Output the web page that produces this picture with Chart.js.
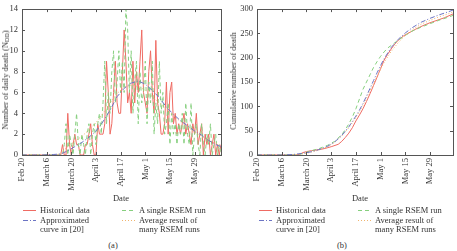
<!DOCTYPE html>
<html>
<head>
<meta charset="utf-8">
<script src="https://cdn.jsdelivr.net/npm/chart.js@4"></script>
<style>
  body { margin:0; width:457px; height:251px; position:relative; background:#fff; overflow:hidden;
         font-family:"Liberation Serif", serif; color:#333; font-size:8.5px; }
  .abs { position:absolute; white-space:nowrap; }
  .ytitle { transform: translate(-50%,-50%) rotate(-90deg); }
  .lg { position:absolute; line-height:9px; }
  .lg svg { position:absolute; top:-1px; }
  .lg span { position:absolute; white-space:nowrap; }
  sub { font-size:6px; vertical-align:-1px; }
</style>
</head>
<body>
<canvas id="c1" width="228" height="196" class="abs" style="left:0;top:0"></canvas>
<canvas id="c2" width="229" height="196" class="abs" style="left:228px;top:0"></canvas>

<div class="abs ytitle" style="left:5px;top:80px">Number of daily death (N<sub>DD</sub>)</div>
<div class="abs ytitle" style="left:233px;top:81px">Cumulative number of death</div>
<div class="abs" style="left:121px;top:198px;transform:translate(-50%,-50%)">Date</div>
<div class="abs" style="left:360px;top:198px;transform:translate(-50%,-50%)">Date</div>
<div class="abs" style="left:113px;top:245px;transform:translate(-50%,-50%)">(a)</div>
<div class="abs" style="left:342px;top:245px;transform:translate(-50%,-50%)">(b)</div>
<div id="legends"></div>

<script>
// --- Daten ---
const tickDays = [0, 14, 28, 42, 56, 70, 84, 98];
const tickNames = ['Feb 20', 'March 6', 'March 20', 'April 3', 'April 17', 'May 1', 'May 15', 'May 29'];

// tägliche Todesfälle, Index = Tag ab Feb 20
const histDaily = [
  0,0,0,0,0,0,0,0,0,0, 0,0,0,0,0,0,0,0,0,0, 0,0,0,1,0,0,4,1,0,1,
  2,1,1,0,0,0,1,1,2,3, 1,0,0,3,2,2,2,3,9,6, 2,3,6,9,5,4,4,8,12,9,
  5,6,4,9,5,8,6,9,12,6, 5,4,8,10,6,4,11,5,4,2, 2,3,7,2,6,7,3,4,2,3,
  2,3,4,2,3,2,1,3,2,4, 1,2,3,0,2,1,2,0,1,2, 0,1,0,1
];
const rsemDaily = [
  0,0,0,0,0,0,0,0,0,0, 0,0,0,0,0,0,0,0,0,0, 0,0,0,0,1,3,0,2,1,0,
  2,4,1,0,2,1,0,2,3,0, 2,3,1,3,4,2,5,9,3,6, 4,8,10,5,7,10,6,9,6,14,
  12,6,10,4,7,9,3,8,5,6, 9,3,7,5,9,2,5,3,9,4, 6,2,3,5,1,4,2,3,1,3,
  2,4,1,5,2,1,5,0,2,3, 1,0,3,1,0,2,1,3,0,1, 2,0,1,0
];
const approxDays  = [0, 12, 18, 22, 26, 30, 34, 38, 42, 46, 50, 54, 58, 62, 66, 70, 74, 78, 82, 86, 90, 94, 98, 102, 106, 110, 113];
const approxDaily = [0, 0, 0.05, 0.1, 0.4, 0.8, 1.2, 1.7, 2.3, 3.2, 4.3, 5.6, 6.4, 6.9, 7.1, 6.8, 6.2, 5.5, 4.6, 3.9, 3.3, 2.8, 2.3, 1.9, 1.4, 1.0, 0.8];
const avgDays  = [0, 20, 22, 26, 30, 34, 38, 42, 46, 50, 54, 58, 62, 66, 70, 74, 78, 82, 86, 90, 94, 98, 102, 106, 110, 113];
const avgDaily = [0, 0, 0.2, 0.8, 1.3, 1.8, 2.4, 3.1, 4.0, 5.0, 5.9, 6.5, 6.7, 6.6, 6.2, 5.6, 5.0, 4.4, 3.8, 3.2, 2.7, 2.2, 1.8, 1.4, 1.1, 0.9];

// kumulierte Werte
const histCumDays = [0, 22, 24, 26, 28, 31, 35, 38, 42, 46, 48, 50, 52, 54, 56, 58, 60, 62, 64, 66, 68, 70, 72, 74, 76, 78, 80, 83, 86, 90, 94, 98, 102, 106, 111];
const histCum     = [0, 0, 1, 5, 7, 9, 11, 13, 17, 22, 28, 36, 45, 56, 70, 82, 95, 110, 126, 143, 160, 178, 195, 207, 218, 228, 236, 245, 251, 259, 266, 272, 277, 282, 290];
const rsemCumDays = [0, 22, 26, 30, 35, 40, 44, 48, 50, 52, 54, 56, 58, 60, 62, 64, 66, 68, 70, 72, 74, 77, 80, 84, 88, 93, 98, 103, 108, 111];
const rsemCum     = [0, 0, 3, 8, 13, 20, 28, 42, 52, 64, 78, 95, 115, 135, 150, 165, 180, 192, 203, 212, 220, 228, 236, 246, 255, 263, 270, 277, 283, 287];
const approxCumDays = [0, 15, 20, 25, 30, 35, 40, 44, 48, 52, 56, 58, 60, 62, 64, 66, 68, 70, 72, 76, 80, 84, 88, 93, 98, 103, 108, 111];
const approxCum     = [0, 0, 1, 3, 6, 11, 18, 27, 40, 58, 80, 92, 106, 121, 137, 153, 169, 184, 198, 221, 238, 251, 262, 273, 281, 288, 294, 298];
const avgCumDays = [0, 20, 25, 30, 35, 40, 44, 48, 52, 56, 60, 64, 68, 72, 76, 80, 84, 88, 93, 98, 103, 108, 111];
const avgCum     = [0, 0, 2, 5, 10, 17, 26, 39, 56, 77, 102, 132, 162, 190, 213, 231, 246, 258, 269, 277, 284, 290, 294];

// --- Stil ---
const C_HIST = '#ef6b63';
const C_RSEM = '#86cf7e';
const C_APPROX = '#6c74c4';
const C_AVG = '#f0b46e';
const DASH_RSEM = [4, 3];
const DASH_APPROX = [5, 2, 1, 2];
const DASH_AVG = [1, 2];

Chart.defaults.font.family = '"Liberation Serif", serif';
Chart.defaults.font.size = 8.5;
Chart.defaults.color = '#333';

const pts = (xs, ys) => ys.map((y, i) => ({ x: xs ? xs[i] : i, y }));

// Rahmen + nach innen zeigende Ticks
const frameTicks = {
  id: 'frameTicks',
  afterDraw(chart) {
    const { ctx, chartArea: a, scales } = chart;
    ctx.save();
    ctx.strokeStyle = '#555';
    ctx.lineWidth = 1;
    ctx.strokeRect(Math.round(a.left) + 0.5, Math.round(a.top) + 0.5,
                   Math.round(a.right - a.left), Math.round(a.bottom - a.top));
    ctx.beginPath();
    tickDays.forEach(d => {
      const x = Math.round(scales.x.getPixelForValue(d)) + 0.5;
      ctx.moveTo(x, a.bottom); ctx.lineTo(x, a.bottom - 3);
      ctx.moveTo(x, a.top); ctx.lineTo(x, a.top + 3);
    });
    scales.y.ticks.forEach(t => {
      const y = Math.round(scales.y.getPixelForValue(t.value)) + 0.5;
      ctx.moveTo(a.left, y); ctx.lineTo(a.left + 3, y);
      ctx.moveTo(a.right, y); ctx.lineTo(a.right - 3, y);
    });
    ctx.stroke();
    ctx.restore();
  }
};

function ds(data, color, dash) {
  return { data, borderColor: color, borderDash: dash || [], borderWidth: 1,
           pointRadius: 0, tension: 0, fill: false };
}

function makeChart(id, datasets, xMax, yMax, yStep, yWidth, padRight) {
  return new Chart(document.getElementById(id), {
    type: 'line',
    data: { datasets },
    plugins: [frameTicks],
    options: {
      responsive: false,
      animation: false,
      layout: { padding: { left: 0, top: 5, right: padRight, bottom: 0 } },
      plugins: { legend: { display: false }, tooltip: { enabled: false } },
      scales: {
        x: {
          type: 'linear', min: 0, max: xMax,
          grid: { display: false, drawTicks: false }, border: { display: false },
          afterBuildTicks: s => { s.ticks = tickDays.map(v => ({ value: v })); },
          afterFit: s => { s.height = 41; },
          ticks: { minRotation: 90, maxRotation: 90, padding: 3,
                   callback: v => tickNames[tickDays.indexOf(v)] }
        },
        y: {
          min: 0, max: yMax,
          grid: { display: false, drawTicks: false }, border: { display: false },
          afterFit: s => { s.width = yWidth; },
          ticks: { stepSize: yStep, padding: 4 }
        }
      }
    }
  });
}

makeChart('c1', [
  ds(pts(approxDays, approxDaily), C_APPROX, DASH_APPROX),
  ds(pts(avgDays, avgDaily), C_AVG, DASH_AVG),
  ds(pts(null, rsemDaily), C_RSEM, DASH_RSEM),
  ds(pts(null, histDaily), C_HIST)
], 113, 14, 2, 22, 7);

makeChart('c2', [
  ds(pts(approxCumDays, approxCum), C_APPROX, DASH_APPROX),
  ds(pts(avgCumDays, avgCum), C_AVG, DASH_AVG),
  ds(pts(rsemCumDays, rsemCum), C_RSEM, DASH_RSEM),
  ds(pts(histCumDays, histCum), C_HIST)
], 111, 300, 50, 29, 4);

// --- Legende (zweispaltig) ---
const legendItems = [
  { lines: ['Historical data'], color: C_HIST, dash: [], col: 0, row: 0 },
  { lines: ['A single RSEM run'], color: C_RSEM, dash: DASH_RSEM, col: 1, row: 0 },
  { lines: ['Approximated', 'curve in [20]'], color: C_APPROX, dash: DASH_APPROX, col: 0, row: 1 },
  { lines: ['Average result of', 'many RSEM runs'], color: C_AVG, dash: DASH_AVG, col: 1, row: 1 }
];
const lg = document.getElementById('legends');
[0, 236].forEach(off => {
  legendItems.forEach(it => {
    const x = 23 + off + it.col * 99;
    const y = 206 + it.row * 10;
    const d = document.createElement('div');
    d.className = 'lg';
    d.style.left = x + 'px';
    d.style.top = y + 'px';
    d.innerHTML =
      `<svg width="13" height="9" style="left:0;top:0"><line x1="0" y1="4.5" x2="13" y2="4.5" stroke="${it.color}" stroke-width="1" stroke-dasharray="${it.dash.join(' ')}"/></svg>` +
      `<span style="left:17px;top:0">${it.lines.join('<br>')}</span>`;
    lg.appendChild(d);
  });
});
</script>
</body>
</html>
